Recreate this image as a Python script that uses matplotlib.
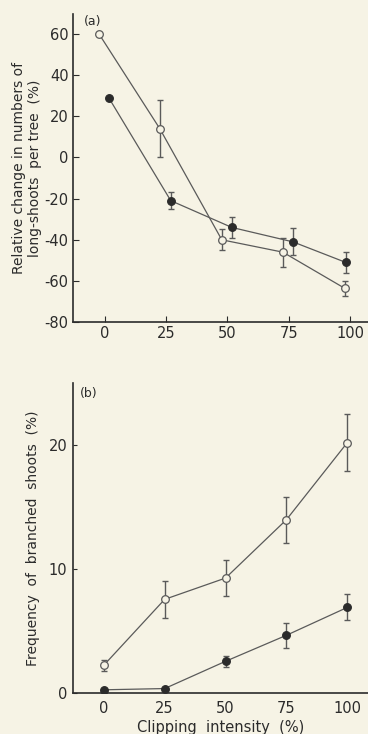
import numpy as np
import matplotlib
matplotlib.use("Agg")
import matplotlib.pyplot as plt

# clipping intensity (%)
clip = [0, 25, 50, 75, 100]

# (a) relative change in long-shoots per tree (%)
a_open = [60, 14, -40, -46, -63.6]
a_open_err = [0, 13.8, 5, 7, 3.8]
a_fill = [29, -21, -34, -41, -51]
a_fill_err = [0, 4, 5, 6.5, 5]
a_open_shift = [-2.4, -2.6, -2.3, -2.4, -2.1]
a_fill_shift = [1.6, 1.9, 1.8, 1.7, -1.7]

# (b) frequency of branched shoots (%)
b_open = [2.23, 7.55, 9.27, 13.98, 20.2]
b_open_err = [0.45, 1.5, 1.45, 1.85, 2.3]
b_fill = [0.25, 0.35, 2.55, 4.65, 6.9]
b_fill_err = [0, 0, 0.45, 1.0, 1.05]

a_yticks = [-80, -60, -40, -20, 0, 20, 40, 60]
b_yticks = [0, 10, 20]
xticks = [0, 25, 50, 75, 100]

bg = '#f6f3e5'
ink = '#2b2b2b'
line = '#5a5a5a'

plt.rcParams['font.family'] = ['DejaVu Sans']
plt.rcParams['font.size'] = 10
plt.rcParams['axes.unicode_minus'] = False

fig = plt.figure(figsize=(3.68, 7.34), dpi=100, facecolor=bg)
ax1 = fig.add_axes([0.198, 0.561, 0.802, 0.42], facecolor=bg)
ax2 = fig.add_axes([0.198, 0.056, 0.802, 0.422], facecolor=bg)


def draw_series(ax, xs, ys, err, filled):
    fc = ink if filled else bg
    yerr = np.array(err, dtype=float)
    yerr = np.where(yerr > 0, yerr, np.nan)
    ax.plot(xs, ys, color=line, lw=0.9, zorder=2)
    ax.errorbar(xs, ys, yerr=yerr, fmt='none', ecolor=line,
                elinewidth=1.0, capsize=2.5, capthick=1.0, zorder=3)
    ax.plot(xs, ys, 'o', ms=5.5, mfc=fc, mec=line if not filled else ink,
            mew=0.9, ls='none', zorder=4)


xo = np.array(clip) + np.array(a_open_shift)
xf = np.array(clip) + np.array(a_fill_shift)
draw_series(ax1, xo, a_open, a_open_err, False)
draw_series(ax1, xf, a_fill, a_fill_err, True)

draw_series(ax2, clip, b_open, b_open_err, False)
draw_series(ax2, clip, b_fill, b_fill_err, True)

ax1.set_xlim(-13, 107.3)
ax1.set_ylim(-80, 69.6)
ax1.set_yticks(a_yticks)
ax1.set_yticklabels([str(v) for v in a_yticks])
ax1.set_xticks(xticks)
ax1.set_xticklabels([str(v) for v in xticks])
ax1.tick_params(direction='in', length=4, width=0.8, colors=ink, labelsize=10.5, pad=3)
ax1.set_ylabel('Relative change in numbers of\nlong-shoots  per tree  (%)',
               color=ink, fontsize=10, labelpad=2)
ax1.text(-5, 66, '(a)', color=ink, fontsize=9, ha='center', va='center')

ax2.set_xlim(-12.7, 108.5)
ax2.set_ylim(0, 25)
ax2.set_yticks(b_yticks)
ax2.set_yticklabels([str(v) for v in b_yticks])
ax2.set_xticks(xticks)
ax2.set_xticklabels([str(v) for v in xticks])
ax2.tick_params(axis='y', direction='in', length=3, width=0.8, colors=ink, labelsize=10.5, pad=4)
ax2.tick_params(axis='x', length=0, colors=ink, labelsize=10.5, pad=6)
ax2.set_ylabel('Frequency  of  branched  shoots  (%)', color=ink, fontsize=10, labelpad=6)
ax2.set_xlabel('Clipping  intensity  (%)', color=ink, fontsize=10.5, labelpad=3)
ax2.text(-6.4, 24.2, '(b)', color=ink, fontsize=9, ha='center', va='center')

for ax in (ax1, ax2):
    for s in ('top', 'right'):
        ax.spines[s].set_visible(False)
    for s in ('left', 'bottom'):
        ax.spines[s].set_color(ink)
        ax.spines[s].set_linewidth(1.2)

fig.savefig('out.png', dpi=100, facecolor=bg)
